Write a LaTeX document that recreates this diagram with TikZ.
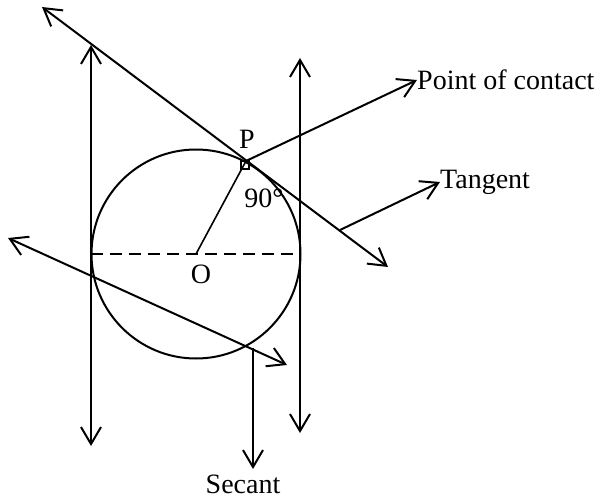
\documentclass[tikz,border=0pt]{standalone}
\usepackage{fontspec}
\setmainfont{Liberation Serif}
\usetikzlibrary{arrows.meta}

\begin{document}
\begin{tikzpicture}[
    x=1pt, y=-1pt,
    font=\fontsize{28}{32}\selectfont,
    line/.style={line width=2pt},
    arrow/.style={line, -{Straight Barb[length=17pt, width=20pt, line width=2pt]}},
    both/.style={line, {Straight Barb[length=17pt, width=20pt, line width=2pt]}-{Straight Barb[length=17pt, width=20pt, line width=2pt]}},
    label/.style={inner sep=0pt}
]
\useasboundingbox (0,0) rectangle (613,498);
% points
\coordinate (O) at (196,254);
\coordinate (P) at (246,161);
\coordinate (dl) at (91,254);
\coordinate (dr) at (300,254);
\coordinate (t1) at (42,7);
\coordinate (t2) at (388,267);
\coordinate (s1) at (8,238);
\coordinate (s2) at (287,365);
\coordinate (la) at (91,45);
\coordinate (lb) at (91,446);
\coordinate (ra) at (300,58);
\coordinate (rb) at (300,433);
\coordinate (tp) at (340,230);
\coordinate (sp) at (253,348);
\coordinate (se) at (253,469);

% labels
\node[label] (lP) at (247,139) {P};
\node[label] (lO) at (201,274) {O};
\node[label] (l90) at (264,198) {90°};
\node[label, anchor=west] (contact) at (417,80) {Point of contact};
\node[label, anchor=west] (tangent) at (440,182) {Tangent};
\node[label] (secant) at (243,484) {Secant};

% circle and diameter
\draw[line] (O) circle[radius=104.5pt];
\draw[line width=1.4pt, dash pattern=on 12pt off 7pt] (dl) -- (dr);
\draw[line width=1.6pt] (O) -- (P);
\draw[line width=1.4pt] (241,161) rectangle (249,169);

% lines
\draw[both] (lb) -- (la);
\draw[both] (rb) -- (ra);
\draw[both] (t1) -- (t2);
\draw[both] (s1) -- (s2);

% pointers
\draw[arrow] (P) -- (contact.west);
\draw[arrow] (tp) -- (tangent.west);
\draw[arrow] (sp) -- (se);
\end{tikzpicture}
\end{document}
